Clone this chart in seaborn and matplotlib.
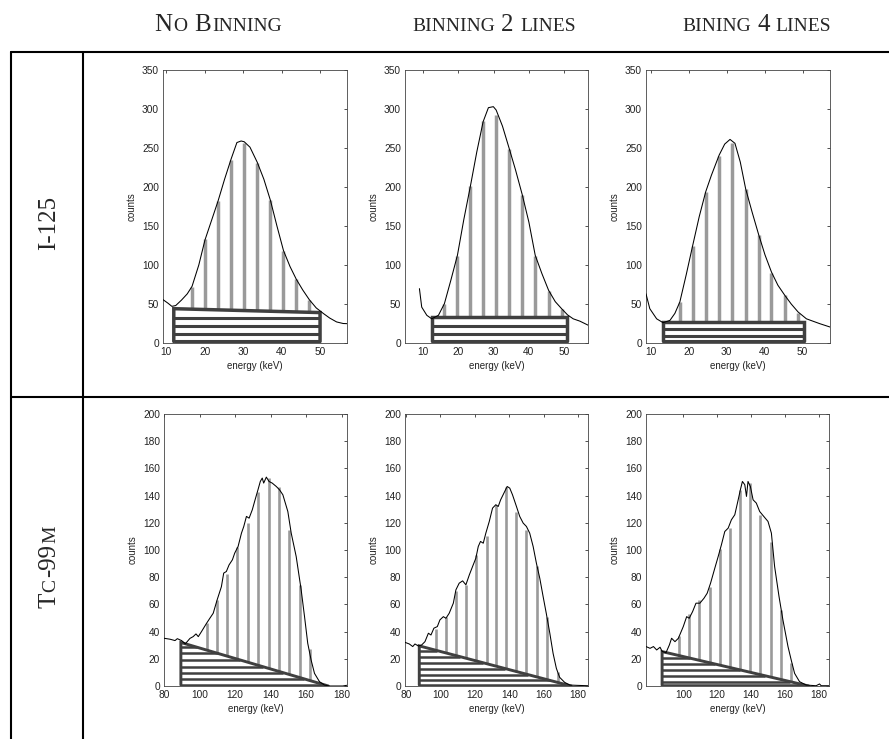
import numpy as np
import matplotlib
matplotlib.use("Agg")
import matplotlib.pyplot as plt
import seaborn as sns
from matplotlib.lines import Line2D

sns.set_style("white")
plt.rcParams['font.family'] = ['Liberation Sans', 'DejaVu Sans']

# ---------------- data ----------------
col_headers = [
    [("N", 18), ("O", 14), (" ", 18), ("B", 18), ("INNING", 14)],
    [("BINNING", 14), (" ", 14), ("2", 18), (" ", 14), ("LINES", 14)],
    [("BINING", 14), (" ", 14), ("4", 18), (" ", 14), ("LINES", 14)],
]
row_labels = [
    [("I-125", 18)],
    [("T", 18), ("C", 14), ("-99", 18), ("M", 14)],
]

# I-125, no binning
e1 = [9.2, 10.5, 11.5, 12.5, 14, 15.5, 16.75, 18.5, 20.1, 21.8, 23.5, 25.2, 26.9, 28.4, 29.5, 30.3,
      31.8, 33.7, 35.4, 37.1, 38.8, 40.5, 42.2, 43.8, 45.5, 47.2, 49, 50.9, 52.5, 54.3, 56, 57]
c1 = [55.6, 51, 47, 48, 55, 63, 72.7, 100, 132, 157, 182, 210, 236, 257, 259, 258,
      251, 231.5, 210, 183, 150, 118.5, 98, 82, 68, 55.6, 45, 37.7, 32, 27, 25, 24.8]
bar_e1 = [16.75, 20.1, 23.5, 26.9, 30.3, 33.7, 37.1, 40.5, 43.8, 47.2]
bar_c1 = [72, 133, 182, 235, 256, 231, 183, 118, 82, 55]
bg1 = [12, 50, 44, 39]            # x0, x1, top-left, top-right
stripes1 = [2, 11, 21.5, 32]

# I-125, binning 2 lines
e2 = [8.9, 9.55, 11, 12.4, 14.3, 16, 17.8, 19.7, 21.5, 23.4, 25.2, 27, 28.5, 29.9, 30.7, 32.5, 34.4,
      36.2, 38.1, 40, 41.8, 43.7, 45.6, 47.5, 49.3, 51, 52.6, 54.5, 56.9]
c2 = [69.7, 46, 35.5, 31, 35.5, 50.5, 80, 112.5, 158, 201.5, 245, 283.7, 301.7, 303, 298.7, 278, 249.5,
      222, 190.4, 155, 112.5, 89, 67.6, 53, 44, 36, 31, 28, 22.7]
bar_e2 = [16.0, 19.7, 23.4, 27.0, 30.7, 34.4, 38.1, 41.8, 45.6, 49.3]
bar_c2 = [50, 112, 201, 284, 292, 249, 190, 112, 67, 44]
bg2 = [12.6, 50.7, 33, 33]
stripes2 = [2, 11.5, 22]

# I-125, binning 4 lines
e3 = [8.8, 9.8, 11.6, 13.3, 15.1, 16.4, 17.7, 19.4, 21.1, 22.8, 24.5, 26, 28.05, 29.5, 30.9, 32.2,
      33.6, 35, 36.7, 38.4, 40.1, 41.8, 43.5, 45.3, 47, 48.8, 51, 54.5, 57.2]
c3 = [63, 44, 31, 26, 29, 38, 52.6, 88, 125.4, 162, 193.8, 215, 241, 255, 261, 256,
      232, 198, 168, 139.5, 113, 91, 74, 61.2, 50, 39.8, 31, 24.8, 20.5]
bar_e3 = [17.7, 21.1, 24.5, 28.05, 31.5, 35, 38.4, 41.8, 45.3, 48.8]
bar_c3 = [52, 125, 193, 240, 256, 197, 139, 90, 61, 39]
bg3 = [13.2, 50.4, 27, 27]
stripes3 = [2, 9.5, 18]

# Tc-99m, no binning
e4 = [80, 83.4, 86.2, 87.5, 89.9, 92, 94.6, 96.4, 98, 99.3, 101.1, 103.9, 105.8, 107.7, 109.9, 112.3,
      113.6, 115.1, 116.6, 118.5, 119.8, 121.7, 123.6, 124.9, 126.4, 127.9, 129.7, 131, 132.9, 134.2,
      135.3, 136.1, 137.6, 139.1, 140.9, 143.2, 145, 146.9, 149.7, 151.6, 154.4, 157.2, 159.1, 160.9,
      162.8, 164.7, 167.5, 170.3, 173.1, 180.6, 182.8]
c4 = [35.1, 34.4, 33.4, 34.8, 33.4, 31, 35, 36.3, 38.3, 36.3, 40, 46, 49.8, 53.5, 63.3, 73,
      83, 84.2, 89, 92.8, 97.7, 102.6, 112.4, 117.3, 124.7, 123.4, 129.6, 135.7, 144.3, 150.4,
      152.9, 149.2, 153.6, 150.4, 149.2, 146.7, 144.3, 140.6, 128.3, 112.4, 95.2, 70.7, 51, 31.4,
      19.1, 9.3, 3.2, 0.7, 0, 0, 0.5]
bar_e4 = [104.3, 109.9, 115.7, 121.3, 127.1, 132.9, 138.9, 144.7, 150.5, 156.3, 161.9]
bar_c4 = [46, 63, 82, 102, 120, 143, 153, 146, 115, 74, 27]
bg4 = [89.5, 32, 172.5]           # x0, top, apex (y = 0)
stripes4 = [0.7, 5.2, 9.8, 14.2, 19.1, 24, 28.5]

# Tc-99m, binning 2 lines
e5 = [79.4, 81.9, 83.9, 85.2, 87.2, 89.1, 91, 93, 94.5, 96.2, 98.2, 99.7, 101.7, 103.2, 105.1, 107.5,
      109, 110.9, 112.9, 114.8, 116.8, 118.7, 120.6, 122, 123.3, 124.9, 126.4, 128.4, 130.3, 132.2,
      133.6, 135, 136.9, 138.8, 140.3, 141.9, 144.2, 146.1, 148.1, 150, 151.9, 153.9, 155.8, 157.8,
      159.7, 161.6, 163.6, 165.5, 167.4, 169.3, 172.2, 175.2, 179, 185.8]
c5 = [32.1, 30.9, 29, 30.9, 29.4, 30.2, 32.6, 38.8, 37.5, 42.5, 43.7, 48.6, 51, 49.8, 53.5, 60.9,
      70.7, 75.6, 77.3, 74.4, 81.7, 87.9, 94, 102.6, 106.3, 105, 112.4, 121, 130.8, 133.3,
      132, 136.9, 141.8, 146.7, 145.5, 140.6, 132, 124.7, 119.8, 117.3, 112.4, 102.6, 90.3, 79,
      65.8, 53, 38.8, 24, 13, 6.4, 2.7, 0.7, 0.5, 0.2]
bar_e5 = [97.4, 103.2, 109.2, 114.8, 120.8, 126.8, 132.4, 138.4, 144.2, 150, 156.2, 162, 168.2]
bar_c5 = [42, 51, 70, 74, 96, 110, 133, 146, 128, 115, 88, 51, 10]
bg5 = [87.7, 29.5, 176]
stripes5 = [0.7, 4.2, 8.4, 12.8, 17.2, 21.6, 26]

# Tc-99m, binning 4 lines
e6 = [78, 80.4, 82.4, 84.3, 86.3, 87.5, 89.8, 91.8, 93.1, 95.1, 97.1, 100, 102, 103.5, 105.5, 107.5,
      109.8, 112.2, 114.1, 116.1, 118.6, 120.6, 122.5, 124.5, 126.5, 128.4, 130.4, 132.4, 133.7,
      134.9, 136.3, 137.3, 138.2, 139.6, 141.2, 143.1, 145.1, 147.5, 150, 152, 153.9, 156.5, 158.8,
      161.8, 163.7, 165.7, 168.6, 172.5, 178.4, 180.4, 181.4, 185.9]
c6 = [29, 27.7, 29, 26.5, 28.5, 25.5, 24.5, 30.2, 35.1, 32.6, 35.1, 43.7, 51, 49.8, 54.7, 60.9,
      60.9, 64.5, 68.2, 75.6, 86.6, 95.2, 103.8, 113.6, 116.1, 122.2, 125.9, 136.9, 144.3,
      150.4, 148, 139.4, 150.4, 146.7, 136.9, 134.5, 128.3, 124.7, 121, 112.4, 87.9, 65.8, 48.6,
      29, 19.1, 9.3, 3.2, 0.7, 0.2, 1.5, 0.2, 0.2]
bar_e6 = [97.6, 103.5, 109.4, 115.7, 121.6, 127.5, 133.7, 139.6, 145.5, 152, 157.8, 163.7]
bar_c6 = [37, 53, 63, 73, 101, 116, 144, 149, 126, 106, 56, 17]
bg6 = [87.5, 25.3, 174]
stripes6 = [0.5, 3.3, 7.6, 11.9, 16.2, 20.5]

xticks_top = [10, 20, 30, 40, 50]
yticks_top = [0, 50, 100, 150, 200, 250, 300, 350]
xticks_bot = [80, 100, 120, 140, 160, 180]
xticks_bot6 = [100, 120, 140, 160, 180]
yticks_bot = [0, 20, 40, 60, 80, 100, 120, 140, 160, 180, 200]

# ---------------- figure ----------------
W, H = 889, 739
fig = plt.figure(figsize=(W / 100, H / 100), dpi=100)


def add_ax(l, r, t, b):
    return fig.add_axes([l / W, 1 - b / H, (r - l) / W, (b - t) / H])


DARK = "#404040"
GRAY = "#9a9a9a"


def draw_panel(ax, e, c, be, bc, bg, stripes, kind, xlim, ylim, xt, yt, bar_lw, dark_lw):
    sns.lineplot(x=e, y=c, ax=ax, color="black", lw=0.75, estimator=None, sort=False, zorder=4)
    be = np.asarray(be, float)
    if kind == "rect":
        x0, x1, tl, tr = bg
        base = np.interp(be, [x0, x1], [tl, tr])
        ends = [x1 if L <= min(tl, tr) else np.interp(L, [tr, tl], [x1, x0]) for L in stripes]
        ox = [x0, x0, x1, x1]
        oy = [stripes[0], tl, tr, stripes[0]]
    else:
        x0, top, apex = bg
        base = np.interp(be, [x0, apex], [top, 0])
        ends = [np.interp(L, [0, top], [apex, x0]) for L in stripes]
        ox = [x0, x0, apex]
        oy = [stripes[0], top, 0]
    ax.vlines(be, base, bc, color=GRAY, lw=bar_lw, zorder=2)
    ax.hlines(stripes, x0, ends, color=DARK, lw=dark_lw, zorder=3)
    ax.plot(ox, oy, color=DARK, lw=dark_lw + 0.3, solid_joinstyle="miter", zorder=3)
    ax.set_xlim(*xlim)
    ax.set_ylim(*ylim)
    ax.set_xticks(xt)
    ax.set_yticks(yt)
    ax.tick_params(direction="in", length=2.5, width=0.6, top=True, right=True,
                   labelsize=7.3, pad=3, colors="#333333", labelcolor="#222222")
    for s in ax.spines.values():
        s.set_linewidth(0.6)
        s.set_color("#444444")
    ax.set_xlabel("energy (keV)", fontsize=7, labelpad=3, color="#222222")
    ax.set_ylabel("counts", fontsize=7, labelpad=4, color="#222222")


ax1 = add_ax(163, 347, 70, 343)
ax2 = add_ax(405, 588, 70, 343)
ax3 = add_ax(646, 830, 70, 343)
ax4 = add_ax(164, 347, 414, 686)
ax5 = add_ax(405, 588, 414, 686)
ax6 = add_ax(646, 829, 414, 686)

draw_panel(ax1, e1, c1, bar_e1, bar_c1, bg1, stripes1, "rect", (9.2, 57), (0, 350), xticks_top, yticks_top, 2.5, 2.2)
draw_panel(ax2, e2, c2, bar_e2, bar_c2, bg2, stripes2, "rect", (4.8, 56.8), (0, 350), xticks_top, yticks_top, 2.5, 2.2)
draw_panel(ax3, e3, c3, bar_e3, bar_c3, bg3, stripes3, "rect", (8.8, 57.2), (0, 350), xticks_top, yticks_top, 2.5, 2.2)
draw_panel(ax4, e4, c4, bar_e4, bar_c4, bg4, stripes4, "tri", (80, 183), (0, 200), xticks_bot, yticks_bot, 1.9, 1.8)
draw_panel(ax5, e5, c5, bar_e5, bar_c5, bg5, stripes5, "tri", (79.4, 185.8), (0, 200), xticks_bot, yticks_bot, 1.9, 1.8)
draw_panel(ax6, e6, c6, bar_e6, bar_c6, bg6, stripes6, "tri", (78, 186), (0, 200), xticks_bot6, yticks_bot, 1.9, 1.8)

# ---------------- table lines ----------------
def fline(xs, ys, lw=1.5):
    fig.add_artist(Line2D([x / W for x in xs], [1 - y / H for y in ys],
                          transform=fig.transFigure, color="black", lw=lw))

fline([11, W], [52, 52])
fline([11, W], [397, 397])
fline([11, 11], [52, H])
fline([83, 83], [52, H])

# ---------------- small-caps text ----------------
SERIF = ["Liberation Serif", "DejaVu Serif"]
renderer = fig.canvas.get_renderer()


def piece_width(s, size):
    if s.strip() == "":
        return 0.25 * size * 100 / 72
    t = fig.text(0, 0, s, fontsize=size, family=SERIF)
    w = t.get_window_extent(renderer).width
    t.remove()
    return w + 1.2


def smallcaps(pieces, cx, cy, rot=0):
    widths = [piece_width(s, sz) for s, sz in pieces]
    total = sum(widths) - 1.2
    if rot == 0:
        cur = cx - total / 2
        for (s, sz), w in zip(pieces, widths):
            if s.strip():
                fig.text(cur / W, 1 - cy / H, s, fontsize=sz, family=SERIF,
                         ha="left", va="baseline")
            cur += w
    else:
        cur = cy + total / 2   # pixel y from top, text goes upward
        for (s, sz), w in zip(pieces, widths):
            if s.strip():
                fig.text(cx / W, 1 - cur / H, s, fontsize=sz, family=SERIF,
                         ha="left", va="baseline", rotation=90, rotation_mode="anchor")
            cur -= w


for pieces, cx in zip(col_headers, [218, 494, 757]):
    smallcaps(pieces, cx, 31)

for pieces, cy in zip(row_labels, [223, 567]):
    smallcaps(pieces, 55, cy, rot=90)

fig.savefig("out.png", dpi=100)
